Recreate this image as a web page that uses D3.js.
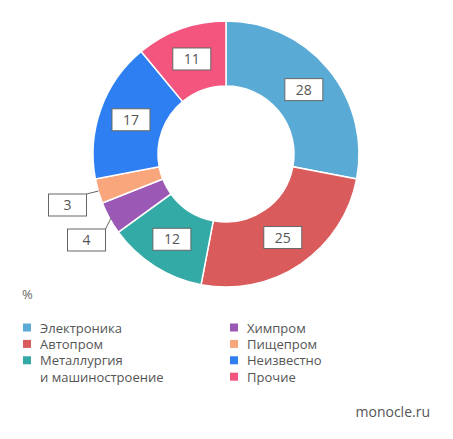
<!DOCTYPE html>
<html>
<head>
<meta charset="utf-8">
<script src="https://cdn.jsdelivr.net/npm/d3@7"></script>
<style>
  html, body { margin: 0; padding: 0; background: #fff; }
  svg { display: block; font-family: "Open Sans", "Noto Sans", sans-serif; }
</style>
</head>
<body>
<svg id="chart" width="453" height="439"></svg>
<script>
const categories = ["Электроника", "Автопром", "Металлургия\nи машиностроение", "Химпром", "Пищепром", "Неизвестно", "Прочие"];
const values = [28, 25, 12, 4, 3, 17, 11];
const colors = ["#5aaad6", "#d95b5b", "#33aaa5", "#9b58b5", "#f9a67d", "#2e7ff1", "#f3557f"];
const unitLabel = "%";
const sourceLabel = "monocle.ru";

const svg = d3.select("#chart");
const cx = 226, cy = 154, rOuter = 133, rInner = 68, rLabel = 101;

const pie = d3.pie().sort(null).value(d => d.value);
const data = categories.map((c, i) => ({ name: c, value: values[i], color: colors[i] }));
const arcs = pie(data);
const arc = d3.arc().innerRadius(rInner).outerRadius(rOuter);
const labelArc = d3.arc().innerRadius(rLabel).outerRadius(rLabel);

const g = svg.append("g").attr("transform", `translate(${cx},${cy})`);
g.selectAll("path.slice").data(arcs).join("path")
  .attr("class", "slice")
  .attr("d", arc)
  .attr("fill", d => d.data.color)
  .attr("stroke", "#fff")
  .attr("stroke-width", 1.5);

const boxW = 38, boxH = 22;
// small slices get labels pulled outside with leader lines: box centre, leader end
const outside = {
  "Пищепром": { box: [-158.5, 51], end: [-127.5, 37] },
  "Химпром": { box: [-139.5, 86], end: [-115, 64] }
};

arcs.forEach(d => {
  let [x, y] = labelArc.centroid(d);
  const o = outside[d.data.name];
  if (o) {
    x = o.box[0]; y = o.box[1];
    g.append("line")
      .attr("x1", x + boxW / 2).attr("y1", y - boxH / 2)
      .attr("x2", o.end[0]).attr("y2", o.end[1])
      .attr("stroke", "#666").attr("stroke-width", 1);
  }
  g.append("rect")
    .attr("x", x - boxW / 2).attr("y", y - boxH / 2)
    .attr("width", boxW).attr("height", boxH)
    .attr("fill", "#fff").attr("stroke", "#666").attr("stroke-width", 1);
  g.append("text")
    .attr("x", x).attr("y", y + 5)
    .attr("text-anchor", "middle")
    .attr("font-size", 14)
    .attr("fill", "#555")
    .text(d.data.value);
});

svg.append("text").attr("x", 22).attr("y", 299)
  .attr("font-size", 13).attr("fill", "#666").text(unitLabel);

// legend
const colX = [23, 230], rowY0 = 328, rowH = 16.4;
let rowIdx = [0, 0];
data.forEach((d, i) => {
  const col = i < 3 ? 0 : 1;
  const lines = d.name.split("\n");
  const y = rowY0 + rowIdx[col] * rowH;
  svg.append("rect").attr("x", colX[col]).attr("y", y - 4.5)
    .attr("width", 8).attr("height", 8).attr("fill", d.color);
  const t = svg.append("text").attr("x", colX[col] + 17).attr("y", y + 4.5)
    .attr("font-size", 13).attr("fill", "#555");
  lines.forEach((ln, k) => {
    t.append("tspan").attr("x", colX[col] + 17).attr("dy", k === 0 ? 0 : rowH).text(ln);
  });
  rowIdx[col] += lines.length;
});

svg.append("text").attr("x", 430).attr("y", 417)
  .attr("text-anchor", "end").attr("font-size", 14).attr("fill", "#555").text(sourceLabel);
</script>
</body>
</html>
